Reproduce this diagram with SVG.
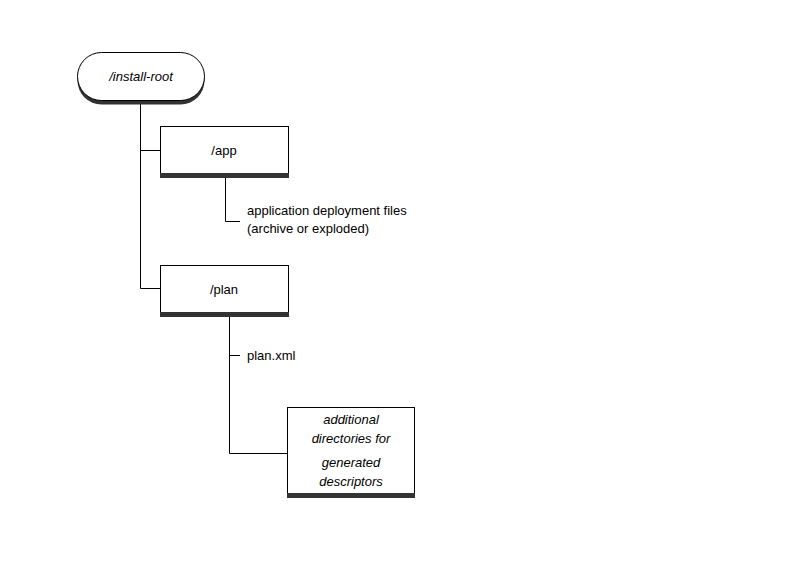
<svg xmlns="http://www.w3.org/2000/svg" width="800" height="567" viewBox="0 0 800 567">
<style>
.b{fill:#fff;stroke:#000;stroke-width:1}
.s{fill:#333}
.l{stroke:#000;stroke-width:1;fill:none}
text{font-family:"Liberation Sans",Arial,sans-serif;font-size:13px;fill:#000}
.i{font-style:italic}
.m{text-anchor:middle}
</style>
<rect width="800" height="567" fill="#fff"/>
<g id="connectors">
<path class="l" d="M140.5 101V288.5H160M140.5 150.5H160M225.5 177V221.5H240M229.5 316V453.5H287M229.5 355.5H240"/>
</g>
<g id="root">
<rect x="77.5" y="55.5" width="127" height="49" rx="24" class="s"/>
<rect x="77.5" y="52.5" width="127" height="48" rx="24" class="b"/>
<text x="141" y="81" class="i m">/install-root</text>
</g>
<g id="app">
<rect x="160.5" y="126.5" width="128" height="51" class="b"/>
<rect x="160" y="173" width="129" height="5" class="s"/>
<text x="224" y="155" class="m">/app</text>
</g>
<g id="appfiles">
<text x="247" y="215">application deployment files</text>
<text x="247" y="233">(archive or exploded)</text>
</g>
<g id="plan">
<rect x="160.5" y="265.5" width="128" height="51" class="b"/>
<rect x="160" y="312" width="129" height="5" class="s"/>
<text x="224" y="294" class="m">/plan</text>
</g>
<g id="planxml">
<text x="247" y="360">plan.xml</text>
</g>
<g id="additional">
<rect x="287.5" y="407.5" width="127" height="90" class="b"/>
<rect x="287" y="493" width="128" height="5" class="s"/>
<text class="i m" x="351" y="424">additional</text>
<text class="i m" x="351" y="443">directories for</text>
<text class="i m" x="351" y="467">generated</text>
<text class="i m" x="351" y="486">descriptors</text>
</g>
</svg>
